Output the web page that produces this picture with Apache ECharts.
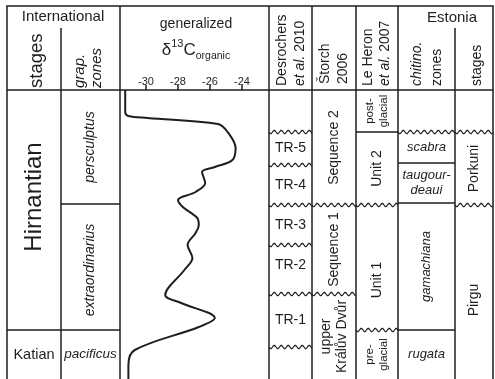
<!DOCTYPE html>
<html>
<head>
<meta charset="utf-8">
<script src="https://cdn.jsdelivr.net/npm/echarts@6/dist/echarts.min.js"></script>
<style>
html, body { margin: 0; padding: 0; background: #fff; }
#chart { width: 495px; height: 379px; }
</style>
</head>
<body>
<div id="chart"></div>
<script>
// generalized d13C organic curve (depth counted down from the header line)
const curveDepth = [0, 22, 26, 28, 34, 42, 58, 70, 77, 82, 93, 102, 110, 117, 128, 135, 143, 155, 168, 180, 205, 213, 228, 237, 260, 275, 295]
const curveD13C = [-31.3, -31.3, -31.1, -29.9, -25.5, -24.9, -24.4, -24.6, -25.7, -26.5, -26.3, -26.9, -28.0, -27.7, -26.8, -26.7, -26.9, -27.4, -27.1, -27.6, -28.8, -27.8, -25.7, -26.7, -30.7, -31.1, -31.1]
const d13cTicks = [-30, -28, -26, -24]

// zones per column: [label, top, base]
const intStages = [['Hirnantian', 0, 240], ['Katian', 240, 289]]
const graptoliteZones = [['persculptus', 0, 114], ['extraordinarius', 114, 240], ['pacificus', 240, 289]]
const trCycles = [['TR-5', 42, 75], ['TR-4', 75, 115], ['TR-3', 115, 155], ['TR-2', 155, 204], ['TR-1', 204, 257]]
const storchUnits = [['Sequence 2', 0, 115], ['Sequence 1', 115, 204], ['upper\nKrálův Dvůr', 204, 289]]
const leHeronUnits = [['post-\nglacial', 0, 42], ['Unit 2', 42, 115], ['Unit 1', 115, 240], ['pre-\nglacial', 240, 289]]
const chitinoZones = [['scabra', 42, 73], ['taugour-\ndeaui', 73, 113], ['gamachiana', 113, 240], ['rugata', 240, 289]]
const estStages = [['Porkuni', 42, 115], ['Pirgu', 115, 289]]

// boundaries per column: [depth, wavy (1) or straight (0)]
const intStageBounds = [[240, 0]]
const graptoliteBounds = [[114, 0], [240, 0]]
const trBounds = [[42, 1], [75, 1], [115, 1], [155, 1], [204, 1], [257, 1]]
const storchBounds = [[115, 1], [204, 1]]
const leHeronBounds = [[42, 0], [115, 1], [240, 1]]
const chitinoBounds = [[42, 1], [73, 0], [113, 0], [240, 0]]
const estBounds = [[42, 1], [115, 1]]

// layout
const FONT = "'Liberation Sans', Arial, sans-serif"
const INK = '#1e1e1e'
const colEdges = [7, 61, 120, 269, 312, 356, 398, 455, 493]
const DEPTH_MAX = 289

const columns = [
  { col: 0, zones: intStages, bounds: intStageBounds },
  { col: 1, zones: graptoliteZones, bounds: graptoliteBounds },
  { col: 3, zones: trCycles, bounds: trBounds },
  { col: 4, zones: storchUnits, bounds: storchBounds },
  { col: 5, zones: leHeronUnits, bounds: leHeronBounds },
  { col: 6, zones: chitinoZones, bounds: chitinoBounds },
  { col: 7, zones: estStages, bounds: estBounds }
]

// how each label is set (at = where the label sits, if not mid-zone)
const labelLook = {
  'Hirnantian': { rot: true, size: 24, at: 107 },
  'Katian': { size: 14.5 },
  'persculptus': { rot: true, size: 14, italic: true },
  'extraordinarius': { rot: true, size: 14, italic: true, at: 180 },
  'pacificus': { size: 13.5, italic: true },
  'TR-2': { size: 14, at: 175 },
  'Sequence 2': { rot: true, size: 14 },
  'Sequence 1': { rot: true, size: 14 },
  'upper\nKrálův Dvůr': { rot: true, size: 14 },
  'post-\nglacial': { rot: true, size: 11.5 },
  'Unit 2': { rot: true, size: 14 },
  'Unit 1': { rot: true, size: 14, at: 190 },
  'pre-\nglacial': { rot: true, size: 11.5 },
  'scabra': { size: 13, italic: true },
  'taugour-\ndeaui': { size: 13, italic: true },
  'gamachiana': { rot: true, size: 13, italic: true },
  'rugata': { size: 13, italic: true },
  'Porkuni': { rot: true, size: 14 },
  'Pirgu': { rot: true, size: 14, at: 210 }
}

const boundData = []
const labelData = []
const labelText = []
columns.forEach(c => {
  c.bounds.forEach(b => boundData.push([c.col, b[0], b[1]]))
  c.zones.forEach(z => {
    labelData.push([c.col, z[1], z[2]])
    labelText.push(z[0])
  })
})

const fontOf = (size, italic) => `${italic ? 'italic ' : ''}${size}px ${FONT}`

const renderBound = (params, api) => {
  const c = api.value(0)
  const y = api.coord([0, api.value(1)])[1]
  const x0 = colEdges[c]
  const x1 = colEdges[c + 1]
  if (!api.value(2)) {
    return { type: 'line', shape: { x1: x0, y1: y, x2: x1, y2: y }, style: { stroke: INK, lineWidth: 1.5 } }
  }
  const pts = []
  for (let x = x0; x <= x1; x += 0.5) {
    pts.push([x, y + 1.6 * Math.sin(2 * Math.PI * (x - x0) / 7)])
  }
  return { type: 'polyline', shape: { points: pts }, style: { stroke: INK, lineWidth: 1.2, fill: 'none' } }
}

const renderLabel = (params, api) => {
  const c = api.value(0)
  const text = labelText[params.dataIndex]
  const look = labelLook[text] || { size: 14 }
  const mid = look.at != null ? look.at : (api.value(1) + api.value(2)) / 2
  const yc = api.coord([0, mid])[1]
  const xc = (colEdges[c] + colEdges[c + 1]) / 2
  return {
    type: 'text',
    x: xc,
    y: yc,
    rotation: look.rot ? Math.PI / 2 : 0,
    style: {
      text: text,
      fill: INK,
      font: fontOf(look.size, look.italic),
      align: 'center',
      verticalAlign: 'middle',
      lineHeight: look.size + 2
    }
  }
}

// header texts
const hText = (text, x, y, size, opts = {}) => ({
  type: 'text',
  x: x,
  y: y,
  rotation: opts.rot ? Math.PI / 2 : 0,
  style: {
    text: text,
    fill: INK,
    font: fontOf(size, opts.italic),
    align: opts.align || 'center',
    verticalAlign: 'middle',
    rich: opts.rich
  }
})
const etAl = (year, x) => hText(`{i|et al.}{n| ${year}}`, x, 86, 14, {
  rot: true, align: 'left',
  rich: { i: { font: fontOf(14, true), fill: INK }, n: { font: fontOf(14), fill: INK } }
})
const vLine = (x, y1) => ({ type: 'line', shape: { x1: x, y1: y1, x2: x, y2: 390 }, style: { stroke: INK, lineWidth: 1.5 } })

const graphics = [
  { type: 'rect', shape: { x: 7, y: 6, width: 486, height: 400 }, style: { fill: 'none', stroke: INK, lineWidth: 1.5 } },
  { type: 'line', shape: { x1: 7, y1: 90, x2: 493, y2: 90 }, style: { stroke: INK, lineWidth: 1.5 } },
  vLine(61, 28), vLine(120, 6), vLine(269, 6), vLine(312, 6), vLine(356, 6), vLine(398, 6), vLine(455, 28),
  hText('International', 63, 17, 15),
  hText('stages', 37, 88, 18.5, { rot: true, align: 'left' }),
  hText('grap.', 80, 88, 15, { rot: true, align: 'left', italic: true }),
  hText('zones', 97, 88, 15, { rot: true, align: 'left', italic: true }),
  hText('generalized', 196, 24, 14),
  hText('{d|δ}{s|13}{c|C}{o|organic}', 196, 50, 16, {
    rich: {
      d: { font: fontOf(17), fill: INK, lineHeight: 24 },
      s: { font: fontOf(11), fill: INK, verticalAlign: 'top', lineHeight: 24, padding: [0, 0, 8, 0] },
      c: { font: fontOf(17), fill: INK, lineHeight: 24 },
      o: { font: fontOf(10.5), fill: INK, verticalAlign: 'bottom', lineHeight: 24, padding: [8, 0, 0, 0] }
    }
  }),
  hText('Desrochers', 282, 86, 14, { rot: true, align: 'left' }),
  etAl(2010, 300),
  hText('Štorch', 325, 84, 14, { rot: true, align: 'left' }),
  hText('2006', 343, 84, 14, { rot: true, align: 'left' }),
  hText('Le Heron', 368, 86, 14, { rot: true, align: 'left' }),
  etAl(2007, 385),
  hText('Estonia', 452, 18, 15),
  hText('chitino.', 417, 86, 14, { rot: true, align: 'left', italic: true }),
  hText('zones', 437, 86, 14, { rot: true, align: 'left' }),
  hText('stages', 477, 86, 14, { rot: true, align: 'left' })
]

const chart = echarts.init(document.getElementById('chart'), null, { renderer: 'canvas' })

const option = {
  backgroundColor: '#fff',
  animation: false,
  grid: [
    { left: 114, right: 221, top: 90, bottom: 0 },
    { left: 0, right: 0, top: 90, bottom: 0 }
  ],
  xAxis: [
    {
      gridIndex: 0,
      type: 'value',
      position: 'top',
      min: -32,
      max: -22,
      axisLine: { show: false },
      axisTick: { show: true, customValues: d13cTicks, length: 5, inside: false, lineStyle: { color: INK, width: 1.5 } },
      axisLabel: { customValues: d13cTicks, color: INK, fontSize: 11, fontFamily: FONT, margin: 3 },
      splitLine: { show: false }
    },
    { gridIndex: 1, type: 'value', min: 0, max: 495, show: false }
  ],
  yAxis: [
    { gridIndex: 0, type: 'value', min: 0, max: DEPTH_MAX, inverse: true, show: false },
    { gridIndex: 1, type: 'value', min: 0, max: DEPTH_MAX, inverse: true, show: false }
  ],
  graphic: graphics,
  series: [
    {
      type: 'line',
      xAxisIndex: 0,
      yAxisIndex: 0,
      data: curveDepth.map((d, i) => [curveD13C[i], d]),
      smooth: 0.35,
      showSymbol: false,
      clip: false,
      lineStyle: { color: INK, width: 2 }
    },
    {
      type: 'custom',
      xAxisIndex: 1,
      yAxisIndex: 1,
      data: boundData,
      renderItem: renderBound,
      silent: true
    },
    {
      type: 'custom',
      xAxisIndex: 1,
      yAxisIndex: 1,
      data: labelData,
      renderItem: renderLabel,
      silent: true
    }
  ]
}

chart.setOption(option)
</script>
</body>
</html>
